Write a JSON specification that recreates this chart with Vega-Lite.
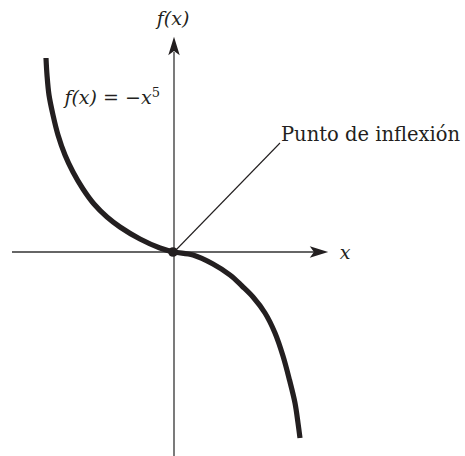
{
  "$schema": "https://vega.github.io/schema/vega-lite/v6.json",
  "width": 465,
  "height": 456,
  "padding": 0,
  "autosize": {"type": "none"},
  "background": "white",
  "config": {"view": {"stroke": null}},
  "encoding": {
    "x": {"field": "x", "type": "quantitative", "axis": null, "scale": {"domain": [-174, 291], "nice": false, "zero": false}},
    "y": {"field": "y", "type": "quantitative", "axis": null, "scale": {"domain": [-204, 252], "nice": false, "zero": false}}
  },
  "layer": [
    {
      "data": {"values": [{"x": -162, "y": 0, "x2": 150}]},
      "mark": {"type": "rule", "stroke": "#333333", "strokeWidth": 1.3},
      "encoding": {"x2": {"field": "x2"}}
    },
    {
      "data": {"values": [{"x": 0, "y": -205, "y2": 200}]},
      "mark": {"type": "rule", "stroke": "#333333", "strokeWidth": 1.3},
      "encoding": {"y2": {"field": "y2"}}
    },
    {
      "data": {"values": [{"x": 145, "y": 0}]},
      "mark": {"type": "point", "shape": "M1,0 L-1,-0.62 L-0.55,0 L-1,0.62 Z", "size": 340, "filled": true, "fill": "#231f20", "strokeWidth": 0, "opacity": 1}
    },
    {
      "data": {"values": [{"x": 0, "y": 206}]},
      "mark": {"type": "point", "shape": "M0,-1 L-0.62,1 L0,0.55 L0.62,1 Z", "size": 340, "filled": true, "fill": "#231f20", "strokeWidth": 0, "opacity": 1}
    },
    {
      "data": {"values": [{"x": 0, "y": 0}, {"x": 106, "y": 109}]},
      "mark": {"type": "line", "stroke": "#231f20", "strokeWidth": 1.1}
    },
    {
      "data": {"values": [
        {"i": 0, "x": -128, "y": 194}, {"i": 1, "x": -127, "y": 177}, {"i": 2, "x": -125, "y": 157},
        {"i": 3, "x": -121, "y": 137}, {"i": 4, "x": -116, "y": 117}, {"i": 5, "x": -109, "y": 97},
        {"i": 6, "x": -101, "y": 80}, {"i": 7, "x": -91, "y": 63}, {"i": 8, "x": -80, "y": 48},
        {"i": 9, "x": -67, "y": 35}, {"i": 10, "x": -54, "y": 25}, {"i": 11, "x": -34, "y": 13},
        {"i": 12, "x": -14, "y": 4}, {"i": 13, "x": 0, "y": 0}, {"i": 14, "x": 19, "y": -3},
        {"i": 15, "x": 39, "y": -12}, {"i": 16, "x": 56, "y": -23}, {"i": 17, "x": 68, "y": -34},
        {"i": 18, "x": 79, "y": -45}, {"i": 19, "x": 91, "y": -61}, {"i": 20, "x": 101, "y": -81},
        {"i": 21, "x": 109, "y": -104}, {"i": 22, "x": 115.5, "y": -128}, {"i": 23, "x": 121, "y": -151},
        {"i": 24, "x": 124, "y": -171}, {"i": 25, "x": 126, "y": -186}
      ]},
      "mark": {"type": "line", "stroke": "#231f20", "strokeWidth": 5.2, "interpolate": "catmull-rom", "strokeCap": "butt"},
      "encoding": {"order": {"field": "i", "type": "quantitative"}}
    },
    {
      "data": {"values": [{"x": -1, "y": 0}]},
      "mark": {"type": "point", "size": 95, "filled": true, "fill": "#231f20", "strokeWidth": 0, "opacity": 1}
    },
    {
      "data": {"values": [{"x": -1, "y": 233, "t": "f(x)"}, {"x": -66, "y": 154, "t": "f(x) = −x"}, {"x": 171, "y": -1, "t": "x"}]},
      "mark": {"type": "text", "font": "DejaVu Serif", "fontStyle": "italic", "fontSize": 19, "color": "#231f20", "baseline": "middle"},
      "encoding": {"text": {"field": "t"}}
    },
    {
      "data": {"values": [{"x": -18, "y": 159, "t": "5"}]},
      "mark": {"type": "text", "font": "DejaVu Serif", "fontSize": 13, "color": "#231f20", "baseline": "middle"},
      "encoding": {"text": {"field": "t"}}
    },
    {
      "data": {"values": [{"x": 107, "y": 117, "t": "Punto de inflexión"}]},
      "mark": {"type": "text", "font": "DejaVu Serif", "fontSize": 19.5, "color": "#231f20", "baseline": "middle", "align": "left"},
      "encoding": {"text": {"field": "t"}}
    }
  ]
}
